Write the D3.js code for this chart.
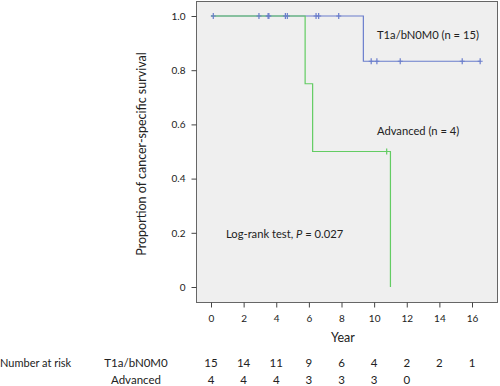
<!DOCTYPE html>
<html>
<head>
<meta charset="utf-8">
<script src="https://cdn.jsdelivr.net/npm/d3@7"></script>
<style>
  body { margin: 0; background: #fff; }
  svg { display: block; font-family: Lato, "Open Sans", sans-serif; }
</style>
</head>
<body>
<svg id="chart" width="500" height="386"></svg>
<script>
// ---- data ----
const yearTicks = [0, 2, 4, 6, 8, 10, 12, 14, 16];
const survTicks = [0, 0.2, 0.4, 0.6, 0.8, 1.0];

// step curves: [time, survival]
const earlyCurve = [[0, 1], [9.34, 1], [9.34, 0.833], [16.5, 0.833]];
const earlyCensor = [[0.14, 1], [2.94, 1], [3.5, 1], [3.55, 1], [4.56, 1], [4.68, 1],
  [6.44, 1], [6.6, 1], [7.83, 1], [9.82, 0.833], [10.17, 0.833], [11.6, 0.833],
  [15.4, 0.833], [16.5, 0.833]];

const advCurve = [[0, 1], [5.77, 1], [5.77, 0.75], [6.23, 0.75], [6.23, 0.5],
  [11.0, 0.5], [11.0, 0]];
const advCensor = [[10.77, 0.5]];

const riskGroups = ['T1a/bN0M0', 'Advanced'];
const riskEarly = [15, 14, 11, 9, 6, 4, 2, 2, 1];
const riskAdv = [4, 4, 4, 3, 3, 3, 0];

const blue = '#6a7dcc';
const green = '#63cc63';

// ---- layout ----
const svg = d3.select('#chart');
const frame = { left: 196, top: 1, right: 497, bottom: 302 };

const x = d3.scaleLinear().domain([0, 16]).range([211, 472]);
const y = d3.scaleLinear().domain([0, 1]).range([287, 16]);

svg.append('rect')
  .attr('x', frame.left + 0.5)
  .attr('y', frame.top + 0.5)
  .attr('width', frame.right - frame.left)
  .attr('height', frame.bottom - frame.top)
  .attr('fill', '#efefef')
  .attr('stroke', '#666')
  .attr('stroke-width', 1);

// y axis
const yAxis = d3.axisLeft(y)
  .tickValues(survTicks)
  .tickSize(5)
  .tickPadding(6)
  .tickFormat(d => d === 0 ? '0' : d3.format('.1f')(d));
svg.append('g')
  .attr('transform', `translate(${frame.left + 0.5},0)`)
  .call(yAxis)
  .call(g => g.select('.domain').remove())
  .call(g => g.selectAll('line').attr('stroke', '#444'))
  .call(g => g.selectAll('text').attr('font-size', 10).attr('fill', '#222')
    .attr('font-family', 'Lato, sans-serif'));

// x axis
const xAxis = d3.axisBottom(x)
  .tickValues(yearTicks)
  .tickSize(5)
  .tickPadding(7);
svg.append('g')
  .attr('transform', `translate(0,${frame.bottom + 0.5})`)
  .call(xAxis)
  .call(g => g.select('.domain').remove())
  .call(g => g.selectAll('line').attr('stroke', '#444'))
  .call(g => g.selectAll('text').attr('font-size', 10).attr('fill', '#222')
    .attr('font-family', 'Lato, sans-serif'));

// axis titles
svg.append('text')
  .attr('transform', 'translate(146,154) rotate(-90)')
  .attr('text-anchor', 'middle')
  .attr('font-size', 12.5)
  .attr('fill', '#222')
  .text('Proportion of cancer-specific survival');

svg.append('text')
  .attr('x', 343)
  .attr('y', 342)
  .attr('text-anchor', 'middle')
  .attr('font-size', 12.5)
  .attr('fill', '#222')
  .text('Year');

// curves
const line = d3.line().x(d => x(d[0])).y(d => y(d[1]));

svg.append('path').datum(earlyCurve)
  .attr('d', line).attr('fill', 'none').attr('stroke', blue).attr('stroke-width', 1.2);
svg.append('path').datum(advCurve)
  .attr('d', line).attr('fill', 'none').attr('stroke', green).attr('stroke-width', 1.2);

function drawCensor(data, color) {
  svg.append('g').selectAll('path')
    .data(data)
    .enter()
    .append('path')
    .attr('d', d => {
      const cx = x(d[0]), cy = y(d[1]);
      return `M${cx - 2.5},${cy}H${cx + 2.5}M${cx},${cy - 3}V${cy + 3}`;
    })
    .attr('stroke', color)
    .attr('stroke-width', 1.2)
    .attr('fill', 'none');
}
drawCensor(earlyCensor, blue);
drawCensor(advCensor, green);

// annotations
svg.append('text').attr('x', 377).attr('y', 39)
  .attr('font-size', 11.2).attr('fill', '#222')
  .text('T1a/bN0M0 (n = 15)');
svg.append('text').attr('x', 377).attr('y', 135)
  .attr('font-size', 11.2).attr('fill', '#222')
  .text('Advanced (n = 4)');

const lr = svg.append('text').attr('x', 226).attr('y', 238)
  .attr('font-size', 11.2).attr('fill', '#222');
lr.append('tspan').text('Log-rank test, ');
lr.append('tspan').attr('font-style', 'italic').text('P');
lr.append('tspan').text(' = 0.027');

// number at risk table
svg.append('text').attr('x', 0).attr('y', 367)
  .attr('font-size', 11).attr('fill', '#222')
  .text('Number at risk');

svg.selectAll('.risk-group')
  .data(riskGroups)
  .enter()
  .append('text')
  .attr('class', 'risk-group')
  .attr('x', 136)
  .attr('y', (d, i) => 367 + i * 16.5)
  .attr('text-anchor', 'middle')
  .attr('font-size', 11.5)
  .attr('fill', '#222')
  .text(d => d);

[riskEarly, riskAdv].forEach((row, i) => {
  svg.append('g').selectAll('text')
    .data(row)
    .enter()
    .append('text')
    .attr('x', (d, j) => x(yearTicks[j]))
    .attr('y', 367 + i * 16.5)
    .attr('text-anchor', 'middle')
    .attr('font-size', 11.5)
    .attr('fill', '#222')
    .text(d => d);
});
</script>
</body>
</html>
